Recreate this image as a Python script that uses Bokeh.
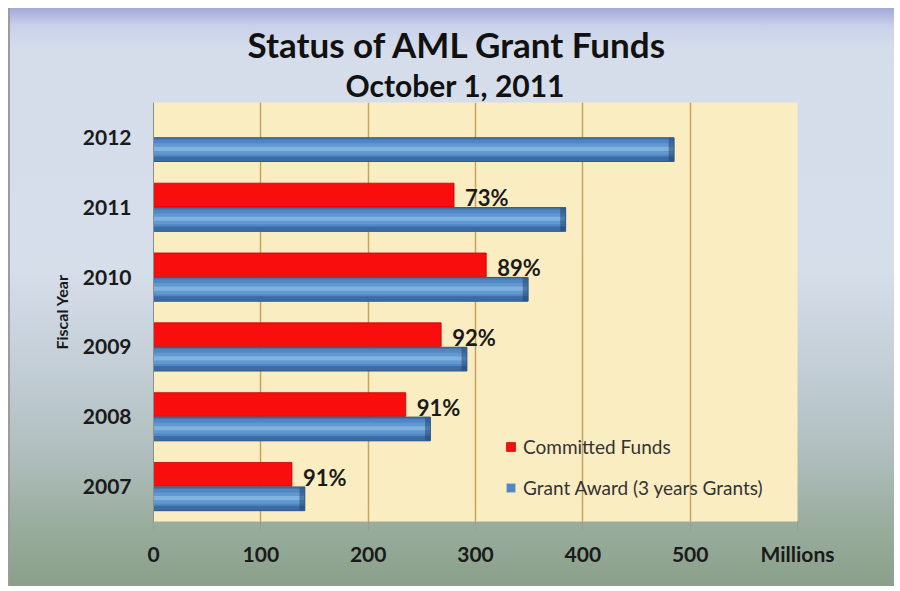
from bokeh.plotting import figure
from bokeh.models import (FactorRange, Range1d, FixedTicker, Legend, LegendItem,
                          Title, ColumnDataSource)
from bokeh.transform import dodge
from bokeh.core.properties import value
from bokeh.embed import file_html
from bokeh.resources import INLINE

# ---------------- data ----------------
years = ["2007", "2008", "2009", "2010", "2011", "2012"]
grant_award = [141, 258, 292, 349, 384, 485]
committed_years = ["2007", "2008", "2009", "2010", "2011"]
committed_funds = [129, 235, 268, 310, 280]
pct_labels = ["91%", "91%", "92%", "89%", "73%"]
x_ticks = [0, 100, 200, 300, 400, 500]
x_unit_tick = 600

title_text = "Status of AML Grant Funds"
subtitle_text = "October 1, 2011"
x_unit_text = "Millions"
y_axis_text = "Fiscal Year"
legend_labels = ["Committed Funds", "Grant Award (3 years Grants)"]

FONT = "Lato"

grant_src = ColumnDataSource(dict(
    year=years,
    grant=grant_award,
    cap_left=[g - 5 for g in grant_award],
))
comm_src = ColumnDataSource(dict(
    year=committed_years,
    committed=committed_funds,
    pct=pct_labels,
))

p = figure(width=900, height=591, output_backend="svg", toolbar_location=None,
           y_range=FactorRange(*years, range_padding=0),
           x_range=Range1d(0, 600),
           min_border_left=153, min_border_right=103,
           min_border_top=102, min_border_bottom=70)

p.background_fill_color = "#FBEDC2"
p.border_fill_color = None
p.outline_line_color = None
p.styles = {
    "background": (
        "linear-gradient(#9c9c9c,#9c9c9c) 8px 8px / 2px 578px no-repeat,"
        "linear-gradient(to bottom, #A3A8D8 0%, #C9D0EA 3%, #D5DDEB 7%, #D6DEEA 45%, "
        "#C3CED6 62%, #AEBDBC 78%, #98AC9C 90%, #8AA08A 100%) 8px 8px / 886px 578px no-repeat,"
        "#ffffff"
    )
}

RED_OFF = 0.175
BLUE_OFF = -0.175
H = 0.34

# committed (red)
red = p.hbar(y=dodge("year", RED_OFF, range=p.y_range), left=0, right="committed",
             height=H, source=comm_src, fill_color="#F90D0D", line_color="#C40000",
             line_width=0.8)

# grant (blue, bevelled look)
blue = p.hbar(y=dodge("year", BLUE_OFF, range=p.y_range), left=0, right="grant",
              height=H, source=grant_src, fill_color="#5088C6", line_color=None)
p.hbar(y=dodge("year", BLUE_OFF - 0.135, range=p.y_range), left=0, right="grant",
       height=0.07, source=grant_src, fill_color="#3D6BA4", line_color=None)
p.hbar(y=dodge("year", BLUE_OFF + 0.155, range=p.y_range), left=0, right="grant",
       height=0.03, source=grant_src, fill_color="#4676B0", line_color=None)
p.hbar(y=dodge("year", BLUE_OFF + 0.01, range=p.y_range), left=0, right="grant",
       height=0.16, source=grant_src, fill_color="#8CBDE6", fill_alpha=0.3, line_color=None)
p.hbar(y=dodge("year", BLUE_OFF + 0.01, range=p.y_range), left=0, right="grant",
       height=0.06, source=grant_src, fill_color="#93C3EA", fill_alpha=0.6, line_color=None)
p.hbar(y=dodge("year", BLUE_OFF, range=p.y_range), left="cap_left", right="grant",
       height=H, source=grant_src, fill_color="#1F3F6E", fill_alpha=0.5, line_color=None)
p.hbar(y=dodge("year", BLUE_OFF, range=p.y_range), left=0, right="grant",
       height=H, source=grant_src, fill_color=None, line_color="#34598A", line_width=1)

# percentage labels
p.text(x="committed", y=dodge("year", RED_OFF - 0.04, range=p.y_range), text="pct",
       source=comm_src, x_offset=11, text_baseline="middle", text_align="left",
       text_font=value(FONT), text_font_style="bold", text_font_size="22px",
       text_color="#1a1a1a")

# axes
p.xaxis.ticker = FixedTicker(ticks=x_ticks + [x_unit_tick])
p.xaxis.major_label_overrides = {x_unit_tick: x_unit_text}
p.xaxis.axis_line_color = None
p.xaxis.major_tick_line_color = "#9A9A9A"
p.xaxis.major_tick_out = 9
p.xaxis.major_tick_in = 0
p.xaxis.minor_tick_line_color = None
p.xaxis.major_label_text_font = FONT
p.xaxis.major_label_text_font_style = "bold"
p.xaxis.major_label_text_font_size = "21px"
p.xaxis.major_label_text_color = "#1a1a1a"
p.xaxis.major_label_standoff = 10

p.yaxis.axis_line_color = "#8E8E8E"
p.yaxis.major_tick_line_color = None
p.yaxis.minor_tick_line_color = None
p.yaxis.major_label_standoff = 16
p.yaxis.major_label_text_font = FONT
p.yaxis.major_label_text_font_style = "bold"
p.yaxis.major_label_text_font_size = "21px"
p.yaxis.major_label_text_color = "#1a1a1a"
p.yaxis.axis_label = y_axis_text
p.yaxis.axis_label_text_font = FONT
p.yaxis.axis_label_text_font_style = "bold"
p.yaxis.axis_label_text_font_size = "16px"
p.yaxis.axis_label_text_color = "#1a1a1a"
p.yaxis.axis_label_standoff = 9

p.xgrid.ticker = FixedTicker(ticks=x_ticks[1:])
p.xgrid.grid_line_color = "#C4A55C"
p.xgrid.grid_line_width = 1.5
p.ygrid.grid_line_color = None

# titles (subtitle added first so it sits closest to the frame)
p.add_layout(Title(text=subtitle_text, align="left", offset=192, standoff=0,
                   text_font=FONT, text_font_style="bold", text_font_size="30px",
                   text_line_height=0.85, text_color="#111111"), "above")
p.add_layout(Title(text=title_text, align="left", offset=94, standoff=0,
                   text_font=FONT, text_font_style="bold", text_font_size="35px",
                   text_color="#111111"), "above")

legend = Legend(items=[LegendItem(label=legend_labels[0], renderers=[red]),
                       LegendItem(label=legend_labels[1], renderers=[blue])],
                location=(352, 22), orientation="vertical")
legend.background_fill_alpha = 0
legend.border_line_alpha = 0
legend.label_text_font = FONT
legend.label_text_font_size = "19px"
legend.label_text_color = "#333333"
legend.glyph_width = 11
legend.glyph_height = 11
legend.label_standoff = 7
legend.label_height = 20
legend.spacing = 18
legend.padding = 0
legend.margin = 0
p.add_layout(legend, "center")

open("out.html", "w").write(file_html(p, INLINE))
